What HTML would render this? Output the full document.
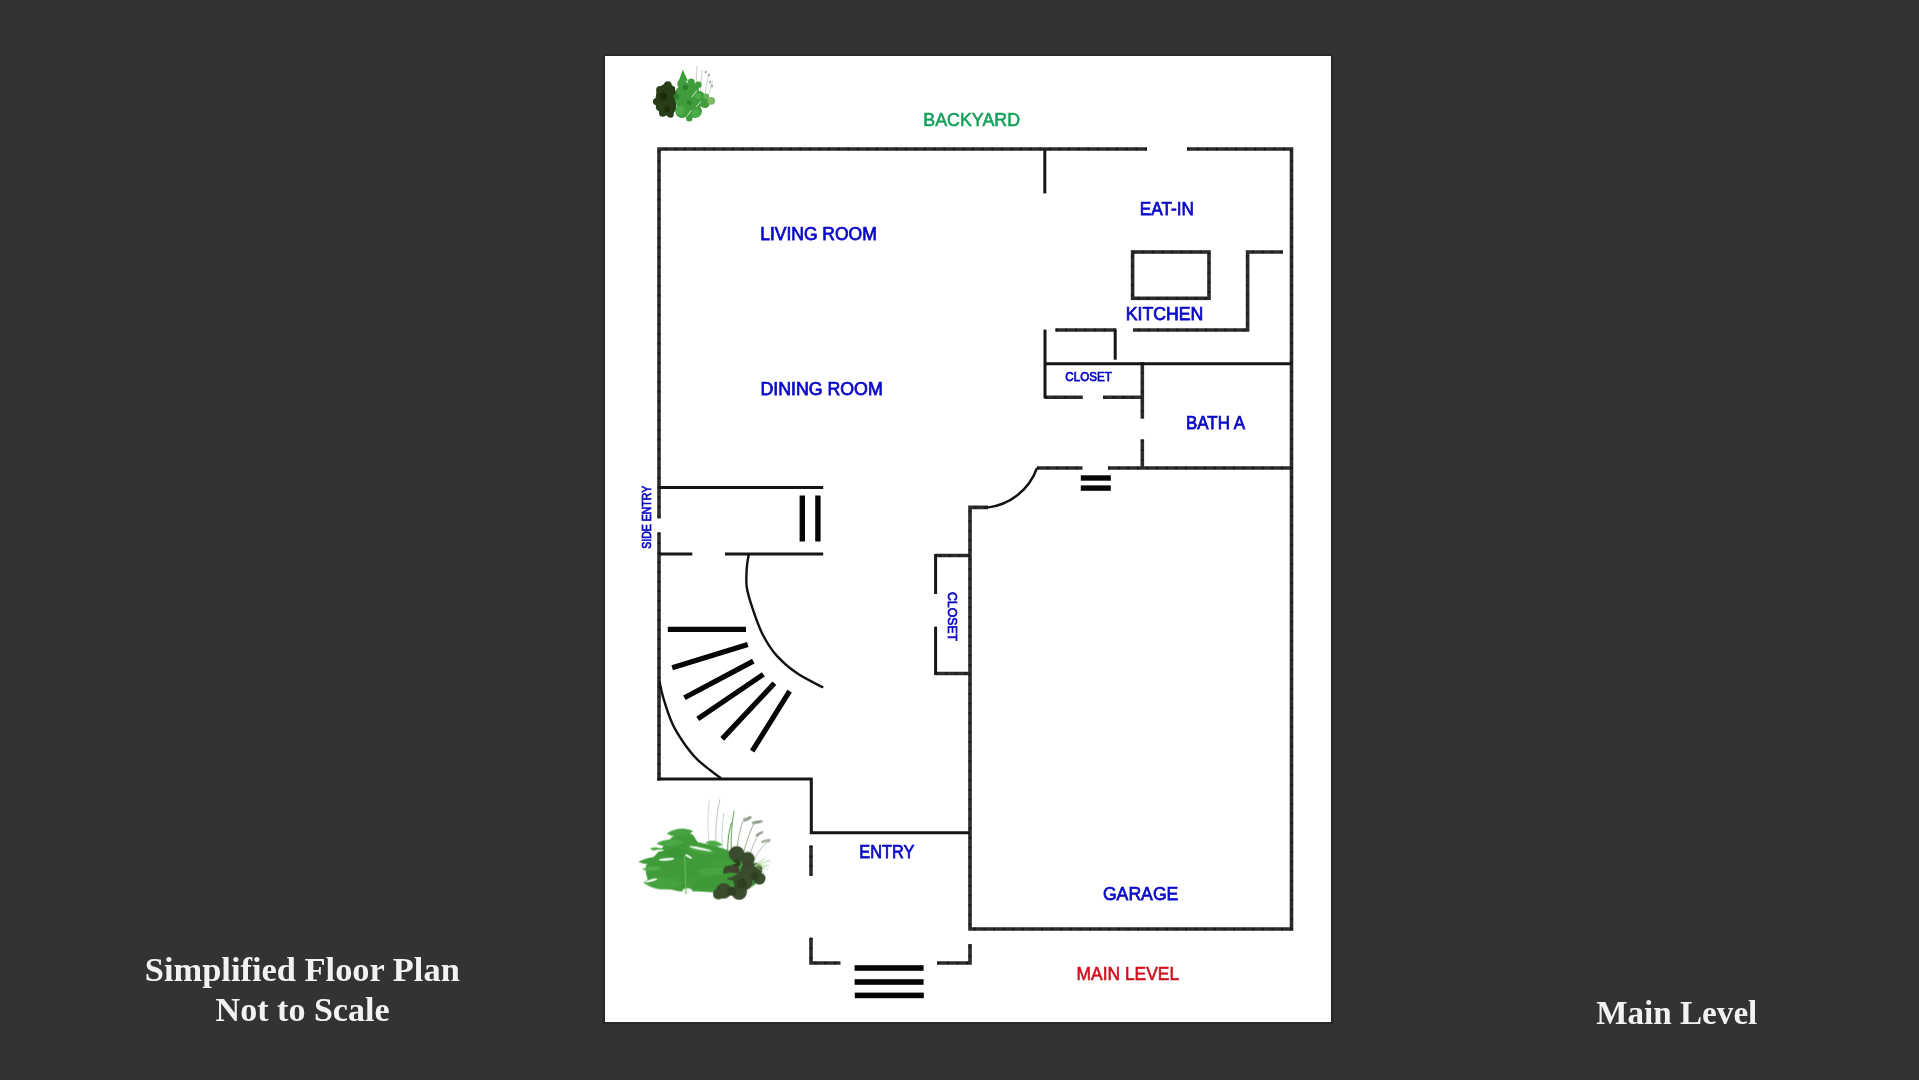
<!DOCTYPE html>
<html><head><meta charset="utf-8">
<style>
html,body{margin:0;padding:0;width:1919px;height:1080px;overflow:hidden;background:#333333;}
svg{position:absolute;left:0;top:0;}
</style></head>
<body>
<svg width="1919" height="1080" viewBox="0 0 1919 1080">
<!-- paper -->
<rect x="603" y="54" width="730" height="970" fill="#282828"/>
<rect x="605" y="56" width="726" height="966" fill="#ffffff"/>

<defs>
  <filter id="soft" x="-10%" y="-10%" width="120%" height="120%"><feGaussianBlur stdDeviation="0.5"/></filter>
  <filter id="softz" x="-10%" y="-10%" width="120%" height="120%"><feGaussianBlur stdDeviation="4.5"/></filter>
  <filter id="softz2" x="-10%" y="-10%" width="120%" height="120%"><feGaussianBlur stdDeviation="9"/></filter>
  <filter id="soft2" x="-10%" y="-10%" width="120%" height="120%"><feGaussianBlur stdDeviation="0.7"/></filter>
</defs>
<!-- top-left plant -->
<g filter="url(#softz2)" transform="translate(640 60) scale(0.06481)">
  <g stroke="#c4cec4" stroke-width="14" fill="none">
    <path d="M880 600 Q860 330 880 90"/>
    <path d="M940 580 Q930 350 960 150"/>
    <path d="M990 620 Q1010 400 1060 230"/>
    <path d="M1040 640 Q1080 450 1120 320"/>
  </g>
  <g fill="#aab3aa"><ellipse cx="1015" cy="185" rx="18" ry="24"/><ellipse cx="1065" cy="230" rx="18" ry="24"/><ellipse cx="1080" cy="335" rx="18" ry="24"/><ellipse cx="1110" cy="400" rx="18" ry="24"/></g>
  <path fill="#263d17" d="M260 440 L420 340 L540 420 L560 760 L480 870 L320 840 L230 680 Z"/>
  <path fill="#3f9d3b" d="M560 450 L650 370 L790 340 L900 380 L920 560 L1000 660 L850 790 L760 900 L650 790 L560 700 L540 560 Z"/>
  <g fill="#263d17">
    <circle cx="310" cy="460" r="60"/>
    <circle cx="430" cy="385" r="58"/>
    <circle cx="255" cy="640" r="55"/>
    <circle cx="300" cy="730" r="55"/>
    <circle cx="350" cy="820" r="55"/>
    <circle cx="470" cy="840" r="50"/>
    <circle cx="370" cy="590" r="120"/>
    <circle cx="480" cy="520" r="80"/>
    <circle cx="480" cy="720" r="80"/>
  </g>
  <g fill="#1a2c0f"><circle cx="360" cy="560" r="60"/><circle cx="420" cy="760" r="45"/></g>
  <path fill="#3f9d3b" d="M595 330 L660 150 L740 320 Z"/>
  <g fill="#3f9d3b">
    <circle cx="650" cy="370" r="75"/>
    <circle cx="790" cy="340" r="55"/>
    <circle cx="900" cy="380" r="50"/>
    <circle cx="640" cy="570" r="110"/>
    <circle cx="790" cy="520" r="95"/>
    <circle cx="920" cy="560" r="80"/>
    <circle cx="650" cy="790" r="105"/>
    <circle cx="850" cy="790" r="105"/>
    <circle cx="1000" cy="660" r="80"/>
    <circle cx="760" cy="900" r="50"/>
  </g>
  <g fill="#4fad49"><circle cx="620" cy="780" r="70"/><circle cx="860" cy="820" r="60"/><circle cx="900" cy="560" r="50"/></g>
  <g fill="#2f7f2c"><circle cx="560" cy="560" r="45"/><circle cx="700" cy="420" r="40"/><circle cx="760" cy="660" r="35"/></g>
  <circle cx="1100" cy="630" r="60" fill="#7cb766"/>
  <circle cx="1020" cy="560" r="45" fill="#64ad56"/>
  <g stroke="#e4f4e0" stroke-width="14" fill="none">
    <path d="M800 570 L880 470"/>
    <path d="M730 860 L790 780"/>
    <path d="M870 720 L940 640"/>
  </g>
</g>

<!-- bottom-left plant -->
<g filter="url(#softz)" transform="translate(620 780) scale(0.12953)">
<g fill="none" stroke-linecap="round">
  <path d="M700 560 Q660 360 690 160" stroke="#c8d4cc" stroke-width="7"/>
  <path d="M740 540 Q730 330 770 150" stroke="#b9c9bd" stroke-width="8"/>
  <path d="M790 540 Q780 380 800 260" stroke="#bcd0d8" stroke-width="7"/>
  <path d="M860 560 Q850 400 880 240" stroke="#7fae6c" stroke-width="9"/>
  <path d="M900 570 Q910 400 960 290" stroke="#98a890" stroke-width="7"/>
  <path d="M950 570 Q990 420 1040 320" stroke="#8fa487" stroke-width="7"/>
  <path d="M1000 590 Q1030 470 1080 410" stroke="#9aa894" stroke-width="6"/>
  <path d="M1040 610 Q1090 500 1160 470" stroke="#a6b2a2" stroke-width="6"/>
  <path d="M830 560 Q830 420 860 330" stroke="#5e9a4f" stroke-width="8"/>
</g>
<ellipse cx="985" cy="300" rx="35" ry="12" transform="rotate(-30 985 300)" fill="#8a9886"/>
<ellipse cx="1060" cy="325" rx="45" ry="12" transform="rotate(-10 1060 325)" fill="#8e9c8a"/>
<ellipse cx="1075" cy="415" rx="35" ry="10" transform="rotate(-30 1075 415)" fill="#949e90"/>
<ellipse cx="1125" cy="470" rx="40" ry="10" transform="rotate(-15 1125 470)" fill="#9ea89a"/>
<path fill="#3f9b39" d="M200 660 L290 560 L400 440 L480 400 L560 420 L600 480 L700 500 L800 530 L880 560 L960 580 L1040 650 L1090 740 L1040 810 L960 860 L860 880 L760 870 L600 860 L460 860 L320 830 L220 790 L200 720 Z"/>
<path fill="#47a342" d="M360 415 C425 449 517 436 565 395 C510 364 418 369 360 415Z"/>
<path fill="#4ca846" d="M280 490 C348 525 447 517 500 480 C443 448 344 449 280 490Z"/>
<path fill="#52ac48" d="M230 530 C261 553 311 555 340 540 C314 520 265 513 230 530Z"/>
<path fill="#3f9c3a" d="M140 632 C230 668 360 655 430 612 C355 579 224 584 140 632Z"/>
<path fill="#54ad4a" d="M170 690 C217 712 284 705 320 680 C281 660 213 662 170 690Z"/>
<path fill="#45a23f" d="M180 790 C271 863 410 860 490 800 C415 735 275 723 180 790Z"/>
<path fill="#3a9636" d="M330 560 C391 608 486 608 540 570 C489 527 395 518 330 560Z"/>
<path fill="#4aa744" d="M520 520 C579 571 679 585 740 560 C691 515 593 493 520 520Z"/>
<path fill="#3f9b38" d="M540 650 C646 691 799 672 880 620 C791 583 638 591 540 650Z"/>
<path fill="#47a53f" d="M560 710 C663 752 816 743 900 700 C814 662 661 662 560 710Z"/>
<path fill="#3d9937" d="M570 810 C666 854 805 840 880 790 C800 750 660 754 570 810Z"/>
<path fill="#4fab47" d="M660 480 C694 516 753 522 790 500 C762 468 704 456 660 480Z"/>
<path fill="#3e9a38" d="M420 700 C476 746 566 751 620 720 C574 679 484 666 420 700Z"/>
<g fill="#f4faf2">
  <ellipse cx="360" cy="612" rx="60" ry="10" transform="rotate(-5 360 612)"/>
  <ellipse cx="240" cy="775" rx="50" ry="9" transform="rotate(-15 240 775)"/>
  <ellipse cx="520" cy="860" rx="40" ry="25" transform="rotate(0 520 860)"/>
  <ellipse cx="620" cy="530" rx="90" ry="9" transform="rotate(12 620 530)"/>
  <ellipse cx="530" cy="590" rx="30" ry="8" transform="rotate(30 530 590)"/>
  <ellipse cx="300" cy="545" rx="40" ry="7" transform="rotate(-5 300 545)"/>
</g>
<path d="M500 580 L510 880" stroke="#6cbf60" stroke-width="8" fill="none"/>
<g fill="#3a4c2e">
  <circle cx="900" cy="570" r="60"/>
  <circle cx="985" cy="610" r="55"/>
  <circle cx="1050" cy="690" r="50"/>
  <circle cx="1075" cy="760" r="48"/>
  <circle cx="950" cy="780" r="75"/>
  <circle cx="800" cy="855" r="60"/>
  <circle cx="920" cy="865" r="60"/>
  <circle cx="760" cy="880" r="42"/>
  <circle cx="860" cy="710" r="65"/>
  <circle cx="990" cy="700" r="60"/>
</g>
<g fill="#2f4024">
  <circle cx="940" cy="800" r="40"/>
  <circle cx="1040" cy="740" r="30"/>
  <circle cx="860" cy="860" r="35"/>
  <circle cx="900" cy="640" r="30"/>
</g>
<g fill="#4a3a2e" opacity="0.6"><circle cx="890" cy="690" r="25"/><circle cx="980" cy="650" r="20"/></g>
<path fill="#43a03c" d="M700 650 C761 677 851 669 900 640 C849 616 759 617 700 650Z"/>
<path fill="#3c9836" d="M720 760 C783 775 868 755 910 720 C857 705 771 721 720 760Z"/>
<g stroke="#9fd28a" stroke-width="7" fill="none">
  <path d="M1040 660 L1160 620"/>
  <path d="M1040 660 L1150 660"/>
  <path d="M1040 660 L1120 600"/>
  <path d="M1040 660 L1100 700"/>
  <path d="M1050 650 L1140 690"/>
</g>
</g>

<!-- walls -->
<g fill="none" stroke="#2c2c2c" stroke-width="3.6" stroke-linejoin="miter" stroke-linecap="butt">
  <path d="M1147 149 H659 V518.5"/>
  <path d="M659 532.5 V780.5"/>
  <path d="M1187 149 H1291.5 V929 H970 V507.4 H988"/>
  <path d="M1037 468 H1082.5"/>
  <path d="M1108 468 H1291.5"/>
  <rect x="1132.6" y="252" width="76.4" height="46.3"/>
  <path d="M1282.8 252 H1247.6 V330 H1133"/>
  <path d="M1045 397.2 H1082.8"/>
  <path d="M1055.5 330 H1116.5"/>
  <path d="M1142.3 362 V418.7"/>
  <path d="M1142.3 439.5 V468"/>
  <path d="M1103 397.2 H1142.3"/>
  <path d="M811 845.6 V875.7"/>
  <path d="M811 937.8 V963 H840.5"/>
  <path d="M937.2 963 H970 V944"/>
  <path d="M970 555.5 H935.6"/>
  <path d="M935.6 673.5 H970"/>
</g>
<!-- wall dots -->
<g fill="none" stroke="#1a1a1a" stroke-width="2.6" stroke-dasharray="2.2 7.4" stroke-linejoin="miter" stroke-linecap="butt">
  <path d="M1147 149 H659 V518.5"/>
  <path d="M659 532.5 V780.5"/>
  <path d="M1187 149 H1291.5 V929 H970 V507.4 H988"/>
  <path d="M1037 468 H1082.5"/>
  <path d="M1108 468 H1291.5"/>
  <rect x="1132.6" y="252" width="76.4" height="46.3"/>
  <path d="M1282.8 252 H1247.6 V330 H1133"/>
  <path d="M1045 397.2 H1082.8"/>
  <path d="M1055.5 330 H1116.5"/>
  <path d="M1142.3 362 V418.7"/>
  <path d="M1142.3 439.5 V468"/>
  <path d="M1103 397.2 H1142.3"/>
  <path d="M811 845.6 V875.7"/>
  <path d="M811 937.8 V963 H840.5"/>
  <path d="M937.2 963 H970 V944"/>
  <path d="M970 555.5 H935.6"/>
  <path d="M935.6 673.5 H970"/>
</g>
<g fill="none" stroke="#161616" stroke-width="3" stroke-linejoin="miter" stroke-linecap="butt">
  <path d="M657.2 779 H811.3 V832.8 H970"/>
  <path d="M1044.8 149 V193.4"/>
  <path d="M1045 329.6 V398.5"/>
  <path d="M1115.2 330 V359.7"/>
  <path d="M1045 363.8 H1291.5"/>
  <path d="M659 487.5 H823.2"/>
  <path d="M659 554 H692.3"/>
  <path d="M725 554 H823.2"/>
  <path d="M935.6 554 V594"/>
  <path d="M935.6 626.6 V675"/>
</g>
<!-- thin arcs -->
<g fill="none" stroke="#111" stroke-width="2.4">
  <path d="M987 507.6 A60 60 0 0 0 1037 468"/>
  <path d="M748.9 554.2 C748.5 556.5 747.1 562.5 746.8 568.0 C746.4 573.5 745.8 580.5 746.8 587.5 C747.8 594.5 750.3 601.8 753.0 609.7 C755.7 617.6 758.8 627.1 762.8 634.7 C766.8 642.4 770.9 649.1 776.7 655.6 C782.5 662.1 789.8 668.3 797.5 673.6 C805.2 678.9 818.9 685.2 823.2 687.5"/>
  <path d="M659.4 681.1 C660.0 683.9 661.2 690.8 663.3 697.8 C665.4 704.8 668.9 715.9 672.2 723.3 C675.5 730.7 679.2 736.3 683.3 742.2 C687.4 748.1 692.2 754.3 696.7 758.9 C701.2 763.5 705.9 766.8 710.0 770.0 C714.1 773.2 719.2 776.9 721.1 778.3"/>
</g>
<!-- thick bars -->
<g fill="#060606">
  <rect x="799.6" y="495.5" width="5.4" height="46"/>
  <rect x="815.2" y="495.5" width="5.4" height="46"/>
  <rect x="1080.8" y="475.3" width="30" height="5.4"/>
  <rect x="1080.8" y="485.4" width="30" height="5.4"/>
  <rect x="854.6" y="965.2" width="69" height="5.6"/>
  <rect x="854.6" y="979.2" width="69" height="5.6"/>
  <rect x="854.8" y="992.6" width="69" height="5.6"/>
</g>
<g fill="none" stroke="#060606" stroke-width="5.2" stroke-linecap="butt">
  <path d="M667.8 629.3 L746 629.3"/>
  <path d="M672.2 667.8 L747.8 644.4"/>
  <path d="M684.4 697.8 L753.3 661.1"/>
  <path d="M697.8 718.9 L763.3 674.4"/>
  <path d="M722.2 738.9 L774.4 683.3"/>
  <path d="M752.2 751.1 L789.6 691.1"/>
</g>

<!-- labels -->
<g font-family="Liberation Sans, sans-serif" fill="#0a0ac8" stroke="#0a0ac8" stroke-width="0.75">
  <text x="760.2" y="240" font-size="17.5" textLength="116.5" lengthAdjust="spacingAndGlyphs">LIVING ROOM</text>
  <text x="760.4" y="394.6" font-size="17.5" textLength="122.3" lengthAdjust="spacingAndGlyphs">DINING ROOM</text>
  <text x="1139.8" y="214.9" font-size="17.5" textLength="54" lengthAdjust="spacingAndGlyphs">EAT-IN</text>
  <text x="1125.8" y="320.3" font-size="17.5" textLength="77.5" lengthAdjust="spacingAndGlyphs">KITCHEN</text>
  <text x="1186" y="429.1" font-size="17.5" textLength="59" lengthAdjust="spacingAndGlyphs">BATH A</text>
  <text x="1065.3" y="380.7" font-size="12.5" textLength="46.5" lengthAdjust="spacingAndGlyphs" >CLOSET</text>
  <text x="859.3" y="858.4" font-size="17.5" textLength="55" lengthAdjust="spacingAndGlyphs">ENTRY</text>
  <text x="1102.9" y="900" font-size="19" textLength="75.5" lengthAdjust="spacingAndGlyphs">GARAGE</text>
  <text transform="translate(651.4 548.8) rotate(-90)" x="0" y="0" font-size="12" textLength="63" lengthAdjust="spacingAndGlyphs" >SIDE ENTRY</text>
  <text transform="translate(947.8 592) rotate(90)" x="0" y="0" font-size="13" textLength="49" lengthAdjust="spacingAndGlyphs" >CLOSET</text>
</g>
<text x="923.3" y="125.6" font-family="Liberation Sans, sans-serif" font-size="18.5" fill="#16a15a" stroke="#16a15a" stroke-width="0.6" textLength="96.8" lengthAdjust="spacingAndGlyphs">BACKYARD</text>
<text x="1076.6" y="980" font-family="Liberation Sans, sans-serif" font-size="17.5" fill="#d0121e" stroke="#d0121e" stroke-width="0.6" textLength="102.5" lengthAdjust="spacingAndGlyphs">MAIN LEVEL</text>

<!-- titles -->
<g font-family="Liberation Serif, serif" font-weight="bold" fill="#f2f2f2" font-size="33">
  <text x="144.8" y="981" textLength="315" lengthAdjust="spacingAndGlyphs">Simplified Floor Plan</text>
  <text x="215.6" y="1020.6" textLength="174" lengthAdjust="spacingAndGlyphs">Not to Scale</text>
  <text x="1596.3" y="1023.7" textLength="161" lengthAdjust="spacingAndGlyphs">Main Level</text>
</g>
</svg>
</body></html>
